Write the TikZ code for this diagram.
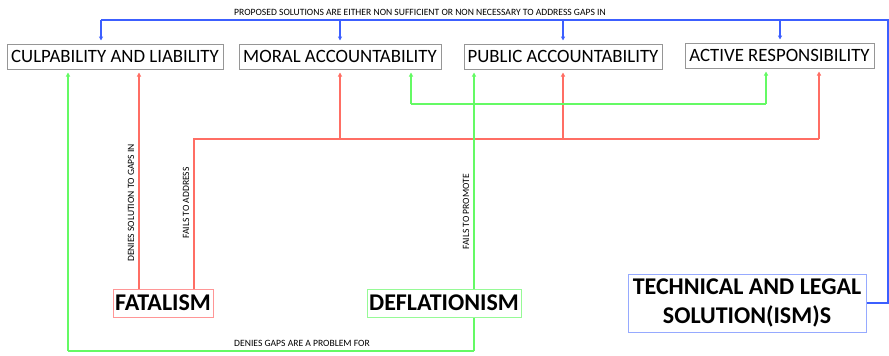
\documentclass[tikz,border=0pt]{standalone}
\usepackage{fontspec}
\setmainfont{Carlito}
\usetikzlibrary{arrows.meta}
\definecolor{lblue}{RGB}{60,95,255}
\definecolor{lred}{RGB}{255,110,100}
\definecolor{lgreen}{RGB}{100,250,100}
\definecolor{bgray}{RGB}{150,150,150}
\definecolor{bred}{RGB}{255,150,150}
\definecolor{bgreen}{RGB}{150,250,150}
\definecolor{bblue}{RGB}{150,170,255}
\tikzset{
  topbox/.style={draw=bgray, line width=1pt, fill=white, inner sep=0pt, font=\fontsize{18.8}{21}\selectfont},
  srcbox/.style={line width=1pt, fill=white, inner sep=0pt, font=\fontsize{24}{29}\selectfont\bfseries, align=center},
  conn/.style={line width=1.2pt},
  arr/.style={conn, -{Triangle[length=4pt,width=4pt]}, shorten >=3pt},
  lbl/.style={font=\fontsize{9.6}{11}\selectfont, inner sep=1pt},
}
\begin{document}
\begin{tikzpicture}[x=1pt,y=-1pt]
\useasboundingbox (0,0) rectangle (889,356);
% top boxes
\node[topbox, minimum width=216pt, minimum height=25pt] (culp) at (115,56.5) {CULPABILITY AND LIABILITY};
\node[topbox, minimum width=202pt, minimum height=25pt] (moral) at (340,56.5) {MORAL ACCOUNTABILITY};
\node[topbox, minimum width=198pt, minimum height=25pt] (public) at (563,56.5) {PUBLIC ACCOUNTABILITY};
\node[topbox, minimum width=189pt, minimum height=25pt] (active) at (779.5,55.5) {ACTIVE RESPONSIBILITY};
% source boxes
\node[srcbox, draw=bred, minimum width=100pt, minimum height=28pt] (fat) at (163,303) {FATALISM};
\node[srcbox, draw=bgreen, minimum width=154pt, minimum height=28pt] (defl) at (444,303) {DEFLATIONISM};
\node[srcbox, draw=bblue, minimum width=238pt, minimum height=58pt] (tech) at (747,303) {TECHNICAL AND LEGAL\\SOLUTION(ISM)S};
% blue connectors
\coordinate (bR) at (888,20);
\coordinate (bL) at (101,20);
\coordinate (bM) at (340,20);
\coordinate (bP) at (563,20);
\coordinate (bA) at (780,20);
\draw[conn, lblue] (tech.east) -| (bR) -- (bL);
\draw[arr, lblue] (bL) -- (bL |- culp.north);
\draw[arr, lblue] (bM) -- (bM |- moral.north);
\draw[arr, lblue] (bP) -- (bP |- public.north);
\draw[arr, lblue] (bA) -- (bA |- active.north);
\node[lbl] (lblprop) at (420,12) {PROPOSED SOLUTIONS ARE EITHER NON SUFFICIENT OR NON NECESSARY TO ADDRESS GAPS IN};
% red connectors
\coordinate (rF1) at (139,317);
\coordinate (rF2) at (194,317);
\coordinate (rJ) at (194,139);
\coordinate (rM) at (340,139);
\coordinate (rP) at (563,139);
\coordinate (rA) at (819,139);
\draw[arr, lred] (rF1 |- fat.north) -- (rF1 |- culp.south);
\draw[conn, lred] (rF2 |- fat.north) -- (rJ) -- (rA);
\draw[arr, lred] (rM) -- (rM |- moral.south);
\draw[arr, lred] (rP) -- (rP |- public.south);
\draw[arr, lred] (rA) -- (rA |- active.south);
\node[lbl, rotate=90] (lbldeny) at (131,203) {DENIES SOLUTION TO GAPS IN};
\node[lbl, rotate=90] (lblfail) at (186,203) {FAILS TO ADDRESS};
% green connectors
\coordinate (gB) at (474,351);
\coordinate (gC) at (68,351);
\coordinate (gJ) at (474,104);
\coordinate (gM) at (411,104);
\coordinate (gA) at (766,104);
\draw[conn, lgreen] (gB) -- (gC);
\draw[arr, lgreen] (gC) -- (gC |- culp.south);
\draw[conn, lgreen] (gB) -- (defl.south -| gB);
\draw[conn, lgreen] (defl.north -| gJ) -- (gJ);
\draw[arr, lgreen] (gJ) -- (gJ |- public.south);
\draw[conn, lgreen] (gM) -- (gA);
\draw[arr, lgreen] (gM) -- (gM |- moral.south);
\draw[arr, lgreen] (gA) -- (gA |- active.south);
\node[lbl, rotate=90] (lblprom) at (466,212) {FAILS TO PROMOTE};
\node[lbl] (lblgaps) at (302,343) {DENIES GAPS ARE A PROBLEM FOR};
\end{tikzpicture}
\end{document}
